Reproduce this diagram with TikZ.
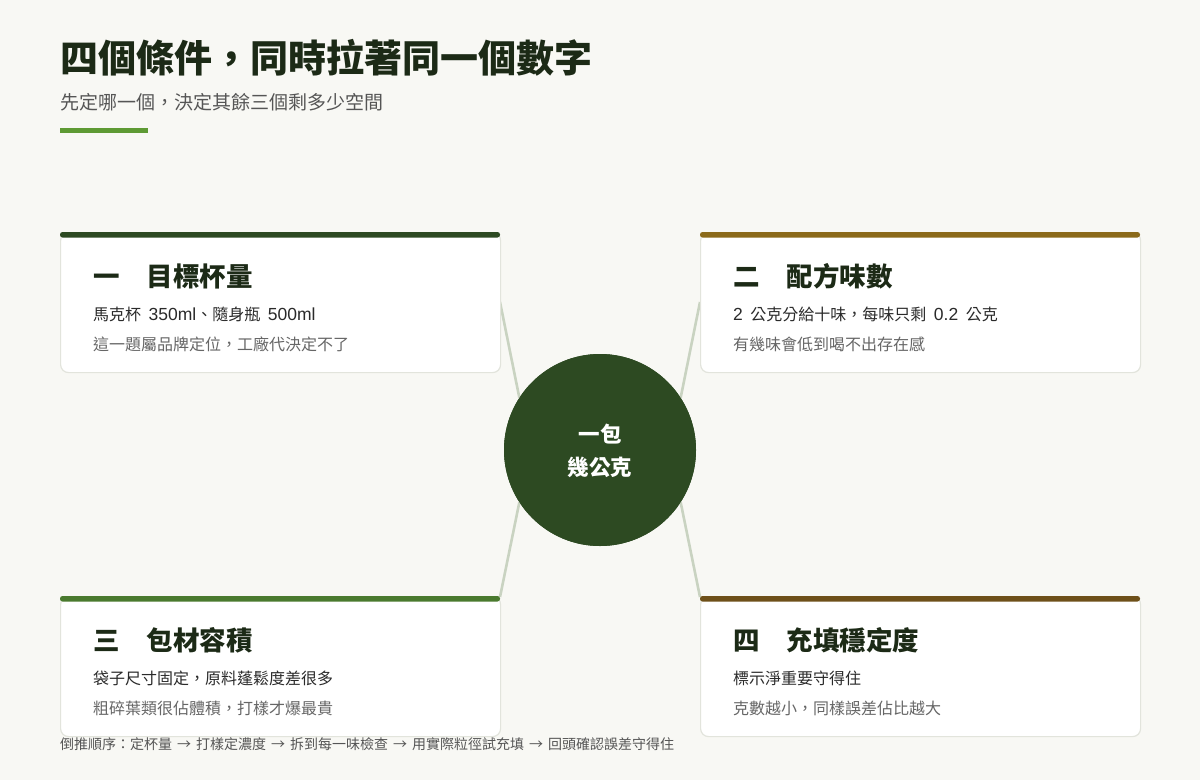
\documentclass[tikz,border=0pt]{standalone}
\usepackage{fontspec}
\setmainfont{Noto Sans CJK TC}
\newfontfamily\lat{Liberation Sans}
\definecolor{bgc}{HTML}{F8F8F4}
\definecolor{titlec}{HTML}{1C2A16}
\definecolor{subc}{HTML}{555555}
\definecolor{accent}{HTML}{5E9A34}
\definecolor{borderc}{HTML}{E2E4DC}
\definecolor{barA}{HTML}{2D4A22}
\definecolor{barB}{HTML}{8B6A1A}
\definecolor{barC}{HTML}{4A7A2E}
\definecolor{barD}{HTML}{6E5019}
\definecolor{hubc}{HTML}{2D4A22}
\definecolor{connc}{HTML}{C9D3C1}
\definecolor{line1c}{HTML}{2A2A2A}
\definecolor{line2c}{HTML}{666666}
\tikzset{
  card/.style={draw=borderc, line width=1.2pt, fill=white, rounded corners=8pt,
    minimum width=440pt, minimum height=140pt, inner sep=0pt, anchor=north west},
  cardttl/.style={anchor=west, inner sep=0pt, text=titlec, font=\fontsize{26.5}{30}\selectfont\bfseries},
  cardl1/.style={anchor=west, inner sep=0pt, text=line1c, font=\fontsize{16}{20}\selectfont},
  cardl2/.style={anchor=west, inner sep=0pt, text=line2c, font=\fontsize{16}{20}\selectfont},
  conn/.style={draw=connc, line width=2.6pt},
}
\newcommand{\numgap}{\hspace{27pt}}
\newcommand{\latt}[1]{{\lat\fontsize{17.5}{20}\selectfont #1}}
\newcommand{\gapsp}{\hspace{7.5pt}}
\newcommand{\arr}{\hspace{5pt}→\hspace{5pt}}
\begin{document}
\begin{tikzpicture}[x=1pt,y=-1pt]
\fill[bgc] (0,0) rectangle (1200,780);
\useasboundingbox (0,0) rectangle (1200,780);

% title
\node[anchor=west, inner sep=0pt, text=titlec, font=\fontsize{38}{42}\selectfont\bfseries] (title) at (60,58) {四個條件，同時拉著同一個數字};
\node[anchor=west, inner sep=0pt, text=subc, font=\fontsize{19}{24}\selectfont] (subtitle) at (60,102) {先定哪一個，決定其餘三個剩多少空間};
\fill[accent] (60,128) rectangle (148,132.5);

% hub and connectors
\node[circle, fill=hubc, minimum size=192pt, inner sep=0pt] (hub) at (600,450) {};
\coordinate (a1) at (500,302);
\coordinate (a2) at (700,302);
\coordinate (a3) at (500,597);
\coordinate (a4) at (700,597);
\draw[conn] (a1) -- (hub.147);
\draw[conn] (a2) -- (hub.33);
\draw[conn] (a3) -- (hub.213);
\draw[conn] (a4) -- (hub.327);
\node[circle, fill=hubc, minimum size=192pt, inner sep=0pt] (hubfill) at (hub.center) {};
\node[align=center, text=white, inner sep=0pt, font=\fontsize{21.5}{33}\selectfont\bfseries] (hubtext) at (600,451) {一包\\幾公克};

% card 1
\node[card] (c1) at (60,232) {};
\fill[barA, rounded corners=2.5pt] (c1.north west) rectangle ++(440,5.5);
\node[cardttl] (c1t) at (93,276) {一\numgap 目標杯量};
\node[cardl1] (c1a) at (93,314) {馬克杯\gapsp\latt{350ml}、隨身瓶\gapsp\latt{500ml}};
\node[cardl2] (c1b) at (93,344) {這一題屬品牌定位，工廠代決定不了};

% card 2
\node[card] (c2) at (700,232) {};
\fill[barB, rounded corners=2.5pt] (c2.north west) rectangle ++(440,5.5);
\node[cardttl] (c2t) at (733,276) {二\numgap 配方味數};
\node[cardl1] (c2a) at (733,314) {\latt{2}\gapsp 公克分給十味，每味只剩\gapsp\latt{0.2}\gapsp 公克};
\node[cardl2] (c2b) at (733,344) {有幾味會低到喝不出存在感};

% card 3
\node[card] (c3) at (60,596) {};
\fill[barC, rounded corners=2.5pt] (c3.north west) rectangle ++(440,5.5);
\node[cardttl] (c3t) at (93,640) {三\numgap 包材容積};
\node[cardl1] (c3a) at (93,678) {袋子尺寸固定，原料蓬鬆度差很多};
\node[cardl2] (c3b) at (93,708) {粗碎葉類很佔體積，打樣才爆最貴};

% card 4
\node[card] (c4) at (700,596) {};
\fill[barD, rounded corners=2.5pt] (c4.north west) rectangle ++(440,5.5);
\node[cardttl] (c4t) at (733,640) {四\numgap 充填穩定度};
\node[cardl1] (c4a) at (733,678) {標示淨重要守得住};
\node[cardl2] (c4b) at (733,708) {克數越小，同樣誤差佔比越大};

% footer
\node[anchor=west, inner sep=0pt, text=subc, font=\fontsize{14}{18}\selectfont] (footer) at (60,744) {倒推順序：定杯量\arr 打樣定濃度\arr 拆到每一味檢查\arr 用實際粒徑試充填\arr 回頭確認誤差守得住};
\end{tikzpicture}
\end{document}
